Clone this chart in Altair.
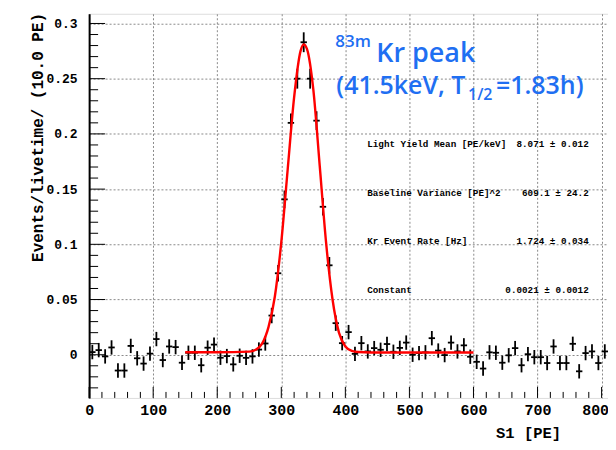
import altair as alt
import pandas as pd

# ---------------- data ----------------
bin_width = 10
bin_centers = list(range(5, 806, 10))
rate = [
    0.0024, 0.0042, -0.0015, 0.0066, -0.0143, -0.0143, 0.0080, -0.0032, -0.0080, 0.0010,
    0.0142, -0.0048, 0.0075, 0.0069, -0.0072, 0.0018, 0.0018, -0.0095, 0.0064, 0.0092,
    -0.0027, -0.0012, -0.0087, -0.0009, -0.0028, -0.0015, 0.0047, 0.0102, 0.0355, 0.0738,
    0.1407, 0.2100, 0.2500, 0.2830, 0.2500, 0.2120, 0.1340, 0.0810, 0.0286, 0.0105,
    0.0205, 0.0008, 0.0105, 0.0030, 0.0060, 0.0045, 0.0097, 0.0027, 0.0062, 0.0110,
    0.0000, 0.0015, 0.0022, 0.0150, 0.0038, -0.0003, 0.0110, 0.0030, 0.0085, -0.0018,
    -0.0064, -0.0125, 0.0022, 0.0018, -0.0072, -0.0005, 0.0060, -0.0095, 0.0005, -0.0022,
    -0.0022, -0.0075, 0.0075, -0.0075, -0.0075, 0.0099, -0.0150, 0.0015, 0.0030, -0.0075,
    0.0030,
]
err = [0.0065] * 28 + [
    0.0070, 0.0075, 0.0080, 0.0085, 0.0090, 0.0090, 0.0090, 0.0085, 0.0080, 0.0075, 0.0070,
] + [0.0065] * 42

fit_x = [150, 200, 250, 260, 270, 280, 290, 300, 310, 320, 330, 335, 340, 350, 360,
         370, 380, 390, 400, 410, 420, 440, 500, 600]
fit_y = [0.0022, 0.0022, 0.0028, 0.0045, 0.0100, 0.0250, 0.0530, 0.1020, 0.1680, 0.2330,
         0.2750, 0.2810, 0.2770, 0.2400, 0.1710, 0.1010, 0.0500, 0.0200, 0.0075, 0.0035,
         0.0025, 0.0021, 0.0021, 0.0021]

x_major = list(range(0, 801, 100))
x_minor = [v for v in range(0, 801, 20) if v % 100 != 0]
y_major = [0, 0.05, 0.1, 0.15, 0.2, 0.25, 0.3]
y_minor = [-0.03, -0.02, -0.01, 0.01, 0.02, 0.03, 0.04, 0.06, 0.07, 0.08, 0.09,
           0.11, 0.12, 0.13, 0.14, 0.16, 0.17, 0.18, 0.19, 0.21, 0.22, 0.23, 0.24,
           0.26, 0.27, 0.28, 0.29]

stats_labels = ["Light Yield Mean [PE/keV]", "Baseline Variance [PE]^2",
                "Kr Event Rate [Hz]", "Constant"]
stats_values = ["8.071 ± 0.012", "609.1 ± 24.2", "1.724 ± 0.034", "0.0021 ± 0.0012"]

title_sup = "83m"
title_main = "Kr peak"
line2_a = "(41.5keV, T"
line2_sub = "1/2"
line2_b = "=1.83h)"

x_title = "S1 [PE]"
y_title = "Events/livetime/ (10.0 PE)"

# ---------------- layout ----------------
W, H = 520, 385
PL, PT = 81.3, 5.3          # plot origin inside svg (page adds 8px)
OX, OY = 8 + PL, 8 + PT     # plot origin in page pixels
MONO = "Liberation Mono"
BLUE = "#1f6ff2"

df = pd.DataFrame({"c": bin_centers, "rate": rate, "err": err})
df["xlo"] = df["c"] - bin_width / 2
df["xhi"] = df["c"] + bin_width / 2
df["lo"] = df["rate"] - df["err"]
df["hi"] = df["rate"] + df["err"]

xs = alt.Scale(domain=[0, 810], nice=False, zero=False)
ys = alt.Scale(domain=[-0.0391, 0.3088], nice=False, zero=False)

last_x = x_major[-1]
x_axis = alt.Axis(values=x_major, grid=True, gridDash=[2, 2], gridColor="#8a8a8a",
                  gridWidth=1, ticks=False, domain=False, format="d",
                  labelFont=MONO, labelFontWeight="bold", labelFontSize=15,
                  labelColor="black", labelPadding=5, labelFlush=False,
                  labelOverlap=False,
                  labelOffset={"condition": {"test": f"datum.value == {last_x}", "value": -6.5},
                               "value": 0},
                  title=x_title, titleFont=MONO, titleFontWeight="bold",
                  titleFontSize=15.5, titleColor="black", titleAlign="right",
                  titleBaseline="middle", titleX=561.7 - OX, titleY=432.5 - (OY + H))
y_axis = alt.Axis(values=y_major, grid=True, gridDash=[2, 2], gridColor="#8a8a8a",
                  gridWidth=1, ticks=False, domain=True, domainColor="black",
                  domainWidth=2, format="~g",
                  labelFont=MONO, labelFontWeight="bold", labelFontSize=13,
                  labelColor="black", labelPadding=12, labelFlush=False,
                  labelOverlap=False,
                  title=y_title, titleFont=MONO, titleFontWeight="bold",
                  titleFontSize=16, titleColor="black", titleAngle=270,
                  titleAlign="right", titleBaseline="middle",
                  titleX=37.5 - OX, titleY=12 - OY)

X = lambda f: alt.X(f, scale=xs, axis=x_axis)
Y = lambda f: alt.Y(f, scale=ys, axis=y_axis)

base = alt.Chart(df)
hbar = base.mark_rule(color="black", strokeWidth=1.8).encode(
    x=X("xlo:Q"), x2="xhi:Q", y=Y("rate:Q"),
)
vbar = base.mark_rule(color="black", strokeWidth=1.8).encode(
    x=X("c:Q"), y=Y("lo:Q"), y2="hi:Q",
)

fit = alt.Chart(pd.DataFrame({"fx": fit_x, "fy": fit_y})).mark_line(
    color="#ff0000", strokeWidth=2.4, interpolate="monotone"
).encode(x=X("fx:Q"), y=Y("fy:Q"))

# ROOT style inward ticks
def xticks(vals, length):
    return alt.Chart(pd.DataFrame({"t": vals})).mark_rule(color="black", strokeWidth=1).encode(
        x=X("t:Q"), y=alt.value(H), y2=alt.value(H - length))

def yticks(vals, length):
    return alt.Chart(pd.DataFrame({"t": vals})).mark_rule(color="black", strokeWidth=1).encode(
        y=Y("t:Q"), x=alt.value(0), x2=alt.value(length))

ticks = [xticks(x_major, 11), xticks(x_minor, 6), yticks(y_major, 16), yticks(y_minor, 9)]

def txt(s, px, py, **kw):
    return alt.Chart(pd.DataFrame({"s": [s]})).mark_text(**kw).encode(
        x=alt.value(px - OX), y=alt.value(py - OY), text="s:N")

texts = []
row_y = [144, 193, 241, 290]
for lab, val, ry in zip(stats_labels, stats_values, row_y):
    texts.append(txt(lab, 368, ry, align="left", baseline="middle", font=MONO,
                     fontWeight="bold", fontSize=9.3, color="black"))
    texts.append(txt(val, 590, ry, align="right", baseline="middle", font=MONO,
                     fontWeight="bold", fontSize=9.3, color="black"))

big = dict(font="Open Sans", fontWeight=600, color=BLUE, baseline="alphabetic", align="left")
texts.append(txt(title_sup, 336, 47, fontSize=17, **big))
texts.append(txt(title_main, 377, 62, fontSize=27, **big))
texts.append(txt(line2_a, 337, 93.5, fontSize=25, **big))
texts.append(txt(line2_sub, 469, 100, fontSize=16, **big))
texts.append(txt(line2_b, 497, 93.5, fontSize=25, **big))

chart = alt.layer(hbar, vbar, fit, *ticks, *texts).properties(
    width=W, height=H,
    autosize=alt.AutoSizeParams(type="none"),
    padding={"left": PL, "top": PT, "right": 0, "bottom": 43.5},
).configure_view(stroke="black", strokeWidth=1.2).configure(background="white")

chart.save("out.html", embed_options={"renderer": "svg", "actions": False})
